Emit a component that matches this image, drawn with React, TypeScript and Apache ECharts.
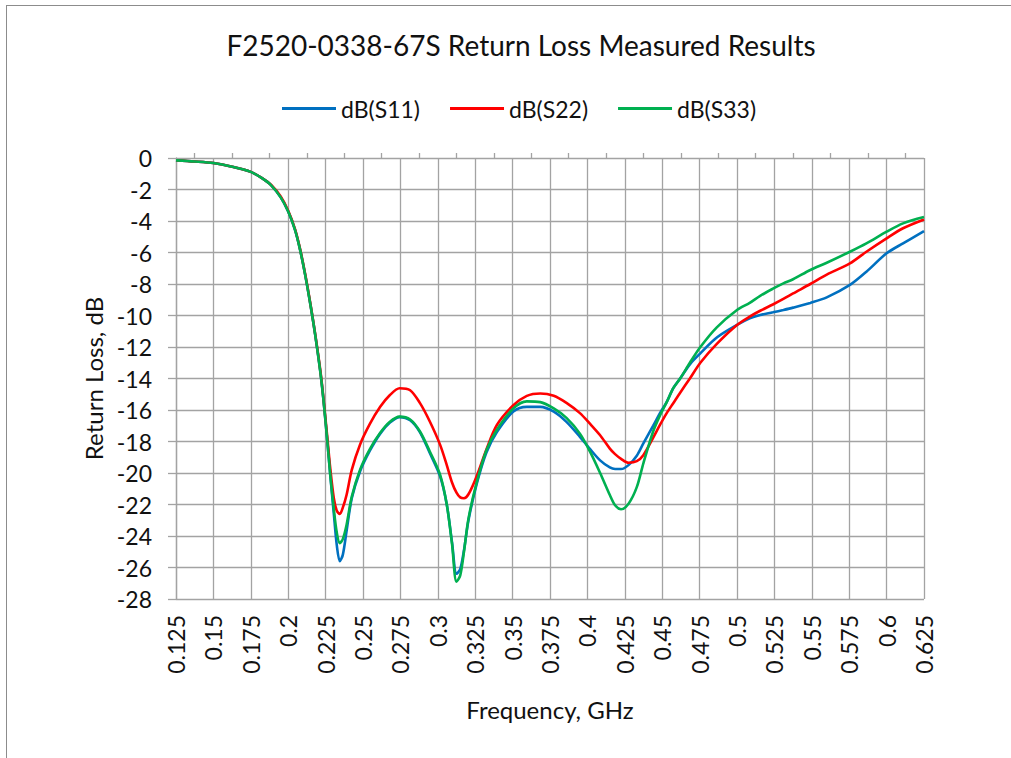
import React, { useEffect, useRef } from "react";
import * as echarts from "echarts";

const TITLE = "F2520-0338-67S Return Loss Measured Results";
const X_NAME = "Frequency, GHz";
const Y_NAME = "Return Loss, dB";
const SERIES_NAMES = ["dB(S11)", "dB(S22)", "dB(S33)"];
const SERIES_COLORS = ["#0070C0", "#FF0000", "#00B050"];

const FREQ = [
  0.125, 0.1375, 0.15, 0.1625, 0.175, 0.1825, 0.1885, 0.195, 0.2, 0.2045,
  0.208, 0.2115, 0.215, 0.218, 0.2215, 0.2235, 0.226, 0.228, 0.2305, 0.2325,
  0.2345, 0.2365, 0.239, 0.2425, 0.248, 0.2545, 0.2615, 0.268, 0.2745, 0.2815,
  0.288, 0.2945, 0.3015, 0.306, 0.3095, 0.3125, 0.315, 0.3175, 0.3205, 0.326,
  0.3325, 0.3395, 0.3505, 0.3595, 0.3685, 0.3775, 0.386, 0.395, 0.4015, 0.4085,
  0.415, 0.4185, 0.4225, 0.4275, 0.433, 0.4375, 0.444, 0.4485, 0.453, 0.4575,
  0.462, 0.4685, 0.4755, 0.4865, 0.5, 0.5085, 0.5155, 0.524, 0.531, 0.5375,
  0.549, 0.56, 0.5755, 0.5865, 0.6, 0.611, 0.625,
];

const S11 = [
  -0.15, -0.22, -0.32, -0.55, -0.88, -1.28, -1.72, -2.5, -3.4, -4.55,
  -5.85, -7.5, -9.4, -11.2, -13.6, -15.3, -17.8, -20.0, -22.6, -24.6,
  -25.6, -25.2, -23.7, -21.6, -19.9, -18.6, -17.5, -16.8, -16.45, -16.65,
  -17.4, -18.7, -20.2, -22.0, -24.4, -26.4, -26.1, -24.9, -23.0, -20.7,
  -18.7, -17.4, -16.1, -15.8, -15.8, -16.1, -16.75, -17.7, -18.45, -19.2,
  -19.65, -19.75, -19.75, -19.5, -18.9, -18.1, -17.0, -16.2, -15.5, -14.6,
  -14.0, -13.1, -12.4, -11.4, -10.6, -10.18, -9.97, -9.8, -9.65, -9.5,
  -9.2, -8.85, -8.06, -7.22, -6.05, -5.42, -4.65,
];

const S22 = [
  -0.15, -0.22, -0.32, -0.55, -0.88, -1.28, -1.7, -2.45, -3.35, -4.5,
  -5.8, -7.45, -9.35, -11.15, -13.5, -15.2, -17.6, -19.6, -21.6, -22.4,
  -22.6, -22.2, -21.4, -19.8, -18.2, -16.9, -15.8, -15.05, -14.62, -14.75,
  -15.55, -16.7, -18.2, -19.5, -20.6, -21.25, -21.55, -21.6, -21.35, -20.2,
  -18.5, -16.95, -15.7, -15.1, -14.95, -15.1, -15.55, -16.2, -16.85, -17.6,
  -18.45, -18.8, -19.1, -19.35, -19.25, -18.85, -17.75, -16.95, -16.2, -15.55,
  -14.9, -14.0, -13.0, -11.8, -10.6, -10.07, -9.7, -9.3, -8.95, -8.6,
  -8.0, -7.4, -6.69, -5.95, -5.1, -4.46, -3.9,
];

const S33 = [
  -0.15, -0.22, -0.32, -0.55, -0.88, -1.28, -1.72, -2.5, -3.4, -4.55,
  -5.85, -7.5, -9.4, -11.2, -13.6, -15.3, -17.8, -20.0, -22.3, -23.8,
  -24.45, -24.2, -23.3, -21.5, -19.8, -18.5, -17.45, -16.75, -16.42, -16.6,
  -17.35, -18.6, -20.1, -22.0, -24.5, -26.9, -26.5, -25.0, -22.9, -20.6,
  -18.55, -17.25, -15.9, -15.45, -15.5, -15.9, -16.5, -17.5, -18.6, -20.0,
  -21.4, -22.05, -22.3, -21.95, -20.9, -19.35, -17.35, -16.35, -15.5, -14.6,
  -14.0, -13.0, -12.0, -10.75, -9.65, -9.2, -8.75, -8.3, -7.96, -7.7,
  -7.11, -6.65, -5.95, -5.42, -4.68, -4.15, -3.75,
];

const X_MIN = 0.125;
const X_MAX = 0.625;
const X_STEP = 0.025;
const Y_MIN = -28;
const Y_MAX = 0;
const Y_STEP = 2;
const TOP_TICK_SLOTS = Array.from({ length: 20 }, (_, i) => String(i));

const FONT = "Lato, 'Open Sans', sans-serif";
const GRID_COLOR = "#a3a3a3";
const TEXT_COLOR = "#111";

export default function App() {
  const ref = useRef<HTMLDivElement>(null);

  useEffect(() => {
    if (!ref.current) return;
    const chart = echarts.init(ref.current, null, { renderer: "svg" });
    const allValues = [S11, S22, S33];
    chart.setOption({
      animation: false,
      backgroundColor: "transparent",
      textStyle: { fontFamily: FONT, color: TEXT_COLOR },
      title: {
        text: TITLE,
        left: 516,
        top: 26,
        textAlign: "center",
        textStyle: { fontFamily: FONT, fontSize: 28, fontWeight: "normal", color: TEXT_COLOR },
      },
      legend: {
        left: 277,
        top: 92,
        icon: "rect",
        itemWidth: 54,
        itemHeight: 3,
        itemGap: 30,
        textStyle: { fontFamily: FONT, fontSize: 23, color: TEXT_COLOR },
        data: SERIES_NAMES,
      },
      grid: { left: 176, top: 158, width: 748, height: 441, containLabel: false },
      xAxis: [
        {
          type: "value",
          min: X_MIN,
          max: X_MAX,
          interval: X_STEP,
          name: X_NAME,
          nameLocation: "middle",
          nameGap: 98,
          nameTextStyle: { fontFamily: FONT, fontSize: 24, color: TEXT_COLOR },
          axisLine: { show: false },
          axisTick: { show: false },
          axisLabel: {
            rotate: 90,
            margin: 16,
            fontFamily: FONT,
            fontSize: 23,
            color: TEXT_COLOR,
            formatter: (v: number) => String(+v.toFixed(4)),
          },
          splitLine: { show: true, lineStyle: { color: GRID_COLOR, width: 1.3 } },
        },
        {
          type: "category",
          position: "top",
          data: TOP_TICK_SLOTS,
          boundaryGap: true,
          axisLine: { show: false },
          axisTick: { show: true, alignWithLabel: true, length: 5, lineStyle: { color: GRID_COLOR, width: 1.3 } },
          axisLabel: { show: false },
          splitLine: { show: false },
        },
      ],
      yAxis: {
        type: "value",
        min: Y_MIN,
        max: Y_MAX,
        interval: Y_STEP,
        name: Y_NAME,
        nameLocation: "middle",
        nameGap: 70,
        nameTextStyle: { fontFamily: FONT, fontSize: 24, color: TEXT_COLOR },
        axisLine: { show: true, lineStyle: { color: GRID_COLOR, width: 1.3 } },
        axisTick: { show: true, length: 8, lineStyle: { color: GRID_COLOR, width: 1.3 } },
        axisLabel: { margin: 24, fontFamily: FONT, fontSize: 23, color: TEXT_COLOR },
        splitLine: { show: true, lineStyle: { color: GRID_COLOR, width: 1.3 } },
      },
      series: SERIES_NAMES.map((name, i) => ({
        name,
        type: "line",
        xAxisIndex: 0,
        data: FREQ.map((f, j) => [f, allValues[i][j]]),
        showSymbol: false,
        smooth: 0.3,
        lineStyle: { color: SERIES_COLORS[i], width: 2.6 },
        itemStyle: { color: SERIES_COLORS[i] },
      })),
    });
    return () => chart.dispose();
  }, []);

  return (
    <div style={{ position: "absolute", left: 0, top: 0, width: 1011, height: 758, overflow: "hidden", background: "#fff" }}>
      <div
        style={{
          position: "absolute",
          left: 6,
          top: 5,
          width: 1040,
          height: 790,
          border: "1px solid #8c8c8c",
        }}
      />
      <div ref={ref} style={{ position: "absolute", left: 0, top: 0, width: 1011, height: 758 }} />
    </div>
  );
}
